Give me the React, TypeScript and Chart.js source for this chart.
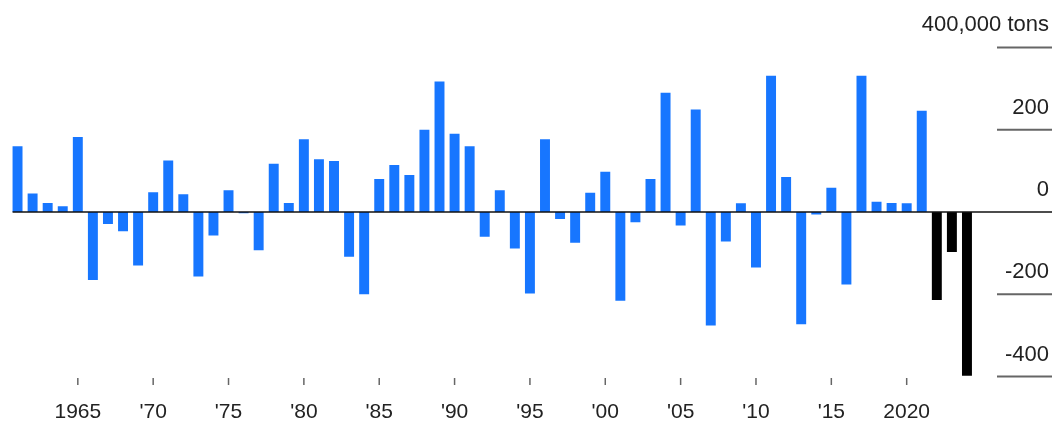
import React, { useEffect, useRef } from "react";
import { Chart, registerables } from "chart.js";

Chart.register(...registerables);

const years = [
  "1961", "1962", "1963", "1964", "1965", "1966", "1967", "1968", "1969", "1970",
  "1971", "1972", "1973", "1974", "1975", "1976", "1977", "1978", "1979", "1980",
  "1981", "1982", "1983", "1984", "1985", "1986", "1987", "1988", "1989", "1990",
  "1991", "1992", "1993", "1994", "1995", "1996", "1997", "1998", "1999", "2000",
  "2001", "2002", "2003", "2004", "2005", "2006", "2007", "2008", "2009", "2010",
  "2011", "2012", "2013", "2014", "2015", "2016", "2017", "2018", "2019", "2020",
  "2021", "2022", "2023", "2024",
];

// thousand tons
const values = [
  160, 45, 22, 14, 182, -165, -29, -47, -130, 48,
  125, 43, -157, -57, 53, -3, -93, 117, 22, 177,
  128, 124, -109, -200, 80, 114, 90, 200, 317, 190,
  160, -60, 53, -89, -198, 177, -17, -75, 47, 98,
  -216, -25, 80, 290, -33, 249, -276, -72, 21, -135,
  331, 85, -273, -6, 59, -176, 331, 25, 22, 21,
  246, -214, -97, -398,
];

const projectedYears = ["2022", "2023", "2024"];

const yTickValues = [400, 200, 0, -200, -400];
const yTickLabels = ["400,000 tons", "200", "0", "-200", "-400"];

const xTickYears = ["1965", "1970", "1975", "1980", "1985", "1990", "1995", "2000", "2005", "2010", "2015", "2020"];
const xTickLabels = ["1965", "'70", "'75", "'80", "'85", "'90", "'95", "'00", "'05", "'10", "'15", "2020"];

const BLUE = "#1776ff";
const BLACK = "#000000";
const FONT_X = "21px 'Liberation Sans', Arial, sans-serif";
const FONT_Y = "22px 'Liberation Sans', Arial, sans-serif";

const overlayPlugin = {
  id: "overlay",
  afterDatasetsDraw(chart: any) {
    const { ctx, scales } = chart;
    const x = scales.x;
    const y = scales.y;
    const meta = chart.getDatasetMeta(0);
    const firstBar = meta.data[0];
    const rightEdge = chart.width - 5;
    const gridLeft = rightEdge - 55;

    ctx.save();
    // zero line
    const y0 = y.getPixelForValue(0);
    ctx.strokeStyle = "#111";
    ctx.lineWidth = 1.5;
    ctx.beginPath();
    ctx.moveTo(firstBar.x - firstBar.width / 2, y0);
    ctx.lineTo(rightEdge, y0);
    ctx.stroke();

    // y labels + short grid lines
    ctx.font = FONT_Y;
    ctx.fillStyle = "#222";
    ctx.textAlign = "right";
    ctx.textBaseline = "alphabetic";
    yTickValues.forEach((v, i) => {
      const py = y.getPixelForValue(v);
      if (v !== 0) {
        ctx.strokeStyle = "#666";
        ctx.lineWidth = 2;
        ctx.beginPath();
        ctx.moveTo(gridLeft, py);
        ctx.lineTo(rightEdge, py);
        ctx.stroke();
      }
      ctx.fillText(yTickLabels[i], rightEdge - 3, py - 16);
    });

    // x ticks + labels
    ctx.font = FONT_X;
    ctx.textAlign = "center";
    ctx.strokeStyle = "#666";
    ctx.lineWidth = 1.5;
    xTickYears.forEach((yr, i) => {
      const idx = years.indexOf(yr);
      const px = x.getPixelForValue(idx);
      ctx.beginPath();
      ctx.moveTo(px, 378);
      ctx.lineTo(px, 385);
      ctx.stroke();
      ctx.fillText(xTickLabels[i], px, 418);
    });
    ctx.restore();
  },
};

export default function App() {
  const canvasRef = useRef<HTMLCanvasElement | null>(null);

  useEffect(() => {
    if (!canvasRef.current) return;
    const chart = new Chart(canvasRef.current, {
      type: "bar",
      data: {
        labels: years,
        datasets: [
          {
            data: values,
            backgroundColor: years.map((yr) => (projectedYears.includes(yr) ? BLACK : BLUE)),
            barPercentage: 0.66,
            categoryPercentage: 1,
            borderWidth: 0,
          },
        ],
      },
      options: {
        animation: false,
        responsive: true,
        maintainAspectRatio: false,
        layout: { padding: { left: 10, right: 82.5, top: 39.2, bottom: 37.2 } },
        plugins: { legend: { display: false }, tooltip: { enabled: false } },
        scales: {
          x: { display: false },
          y: { display: false, min: -420, max: 420 },
        },
      },
      plugins: [overlayPlugin],
    });
    return () => chart.destroy();
  }, []);

  return (
    <div style={{ position: "absolute", left: 0, top: 0, width: 1057, height: 422, background: "#fff" }}>
      <canvas ref={canvasRef} />
    </div>
  );
}
